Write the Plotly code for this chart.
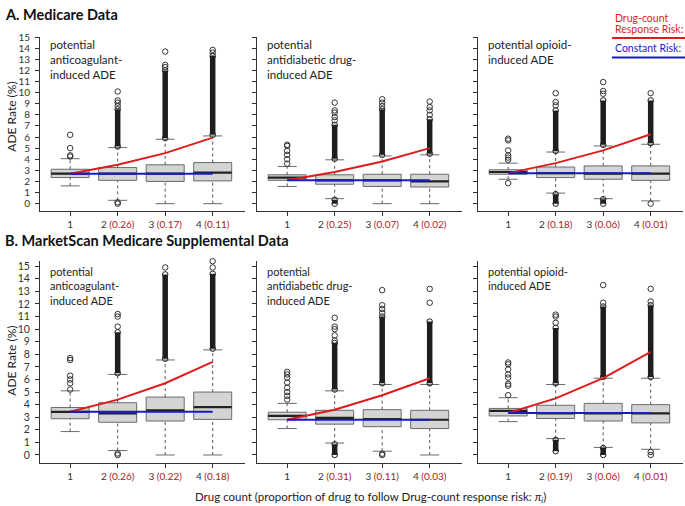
import plotly.graph_objects as go

# ---------------- data ----------------
PANELS = ["A1", "A2", "A3", "B1", "B2", "B3"]
PANEL_TEXT = [
    "potential<br>anticoagulant-<br>induced ADE",
    "potential<br>antidiabetic drug-<br>induced ADE",
    "potential opioid-<br>induced ADE",
    "potential<br>anticoagulant-<br>induced ADE",
    "potential<br>antidiabetic drug-<br>induced ADE",
    "potential opioid-<br>induced ADE",
]
DRUG_COUNT = [1, 2, 3, 4]
PROPORTION = [
    ["", "0.26", "0.17", "0.11"],
    ["", "0.25", "0.07", "0.02"],
    ["", "0.18", "0.06", "0.01"],
    ["", "0.26", "0.22", "0.18"],
    ["", "0.31", "0.11", "0.03"],
    ["", "0.19", "0.06", "0.01"],
]
Q1 = [
    [2.35, 2.1, 2.0, 2.05],
    [2.1, 1.75, 1.55, 1.5],
    [2.65, 2.35, 2.2, 2.1],
    [2.88, 2.6, 2.7, 2.83],
    [2.8, 2.45, 2.25, 2.1],
    [3.1, 2.9, 2.7, 2.55],
]
MEDIAN = [
    [2.7, 2.7, 2.7, 2.8],
    [2.35, 2.1, 2.1, 2.0],
    [2.85, 2.75, 2.7, 2.7],
    [3.43, 3.3, 3.55, 3.8],
    [3.1, 2.95, 2.85, 2.8],
    [3.5, 3.3, 3.3, 3.3],
]
Q3 = [
    [3.1, 3.25, 3.5, 3.7],
    [2.6, 2.6, 2.65, 2.65],
    [3.05, 3.3, 3.4, 3.4],
    [3.77, 4.15, 4.6, 5.0],
    [3.4, 3.55, 3.6, 3.55],
    [3.7, 3.95, 4.1, 4.0],
]
WHISK_LO = [
    [1.6, 0.3, 0.0, 0.0],
    [1.55, 0.45, 0.0, 0.0],
    [2.2, 0.95, 0.45, 0.25],
    [1.86, 0.35, 0.0, 0.0],
    [2.1, 0.95, 0.3, 0.0],
    [2.65, 1.3, 0.6, 0.45],
]
WHISK_HI = [
    [4.05, 5.05, 5.8, 6.1],
    [3.35, 3.95, 4.3, 4.4],
    [3.65, 4.65, 5.2, 5.35],
    [5.1, 6.4, 7.55, 8.35],
    [4.1, 5.1, 5.6, 5.6],
    [4.55, 5.6, 6.1, 6.1],
]
DRUG_COUNT_RISK = [
    [2.7, 3.5, 4.55, 5.95],
    [2.1, 2.85, 3.8, 5.0],
    [2.75, 3.65, 4.8, 6.25],
    [3.43, 4.4, 5.7, 7.4],
    [2.8, 3.6, 4.75, 6.1],
    [3.33, 4.5, 6.1, 8.2],
]
CONSTANT_RISK = [2.7, 2.1, 2.75, 3.43, 2.8, 3.33]

# sparse outliers: (drug count, value)
OUTLIERS = [
    [(1, 4.25), (1, 4.35), (1, 5.0), (1, 6.2), (2, 0.0), (2, 0.12), (2, 8.8), (2, 9.1), (2, 9.3), (2, 10.1),
     (3, 12.3), (3, 12.5), (3, 13.7), (4, 13.6), (4, 13.85)],
    [(1, 3.6), (1, 4.0), (1, 4.4), (1, 4.75), (1, 5.2), (1, 5.3), (2, 7.5), (2, 7.8), (2, 8.2), (2, 8.4), (2, 9.1),
     (3, 8.8), (3, 9.1), (3, 9.4), (4, 8.0), (4, 8.4), (4, 8.7), (4, 9.2)],
    [(1, 1.85), (1, 3.95), (1, 4.15), (1, 4.35), (1, 4.8), (1, 5.7), (1, 5.85), (2, 8.85), (2, 9.15), (2, 9.95),
     (3, 9.9), (3, 10.15), (3, 10.95), (4, 9.95), (4, 0.0)],
    [(1, 5.2), (1, 5.7), (1, 6.0), (1, 6.3), (1, 7.55), (1, 7.7), (2, 0.0), (2, 0.12), (2, 10.2), (2, 11.0), (2, 11.2),
     (3, 14.9), (4, 14.9), (4, 15.4)],
    [(1, 4.4), (1, 4.7), (1, 5.0), (1, 5.35), (1, 5.75), (1, 6.15), (1, 6.4), (1, 6.6), (2, 9.1), (2, 9.5), (2, 10.0),
     (2, 10.2), (2, 10.9), (3, 0.1), (3, 0.0), (3, 11.3), (3, 11.6), (3, 11.9), (3, 13.1), (4, 12.1), (4, 13.2)],
    [(1, 4.75), (1, 5.5), (1, 5.65), (1, 6.15), (1, 6.4), (1, 6.8), (1, 7.2), (1, 7.35), (2, 10.5), (2, 11.0),
     (2, 11.15), (3, 12.1), (3, 13.5), (4, 12.2), (4, 13.2), (4, 0.24), (4, 0.0)],
]
# dense runs of outliers: (drug count, from, to)
DENSE_OUTLIERS = [
    [(2, 5.15, 8.5), (3, 5.9, 12.0), (4, 6.2, 13.3)],
    [(2, 4.05, 7.1), (2, 0.0, 0.35), (3, 4.4, 8.5), (4, 4.5, 7.6)],
    [(2, 4.75, 8.4), (2, 0.0, 0.85), (3, 5.3, 9.3), (3, 0.0, 0.4), (4, 5.45, 9.3)],
    [(2, 6.5, 9.75), (3, 7.65, 14.35), (4, 8.45, 14.4)],
    [(2, 5.2, 8.9), (2, 0.0, 0.85), (3, 5.7, 11.0), (4, 5.7, 10.6)],
    [(2, 5.7, 10.1), (2, 0.3, 1.2), (3, 6.2, 11.8), (3, 0.0, 0.55), (4, 6.2, 11.9)],
]

# ---------------- layout geometry (pixels) ----------------
W, H = 685, 506
COL_PX = [(40, 245), (257, 462), (478, 683)]
ROW_PX = [(207, 31.5), (462, 258)]  # (bottom, top)
Y_RANGE = [[-0.62, 15.0], [-0.6, 15.42]]
X_RANGE = [0.365, 4.68]
BOX_W = 0.8
CAP_HALF = 0.2

FONT = "Lato, Open Sans, sans-serif"
RED = "#dd1c1c"
BLUE = "#1a1acc"
PROP_RED = "#b02020"
BOX_LINE = "#6a6a6a"


def px(x):
    return x / W


def py(y):
    return 1 - y / H


fig = go.Figure()
layout = dict(
    width=W, height=H, margin=dict(l=0, r=0, t=0, b=0),
    plot_bgcolor="white", paper_bgcolor="white", showlegend=False,
    boxmode="overlay", font=dict(family=FONT, color="#222"),
)
annotations = []
shapes = []

for i, name in enumerate(PANELS):
    row, col = divmod(i, 3)
    n = "" if i == 0 else str(i + 1)
    xa, ya = "x" + n, "y" + n
    x0p, x1p = COL_PX[col]
    yb, yt = ROW_PX[row]
    ticktext = []
    for d, p in zip(DRUG_COUNT, PROPORTION[i]):
        if p:
            ticktext.append(f"{d}\u00a0<span style='color:{PROP_RED}'>({p})</span>")
        else:
            ticktext.append(str(d))
    layout["xaxis" + n] = dict(
        domain=[px(x0p), px(x1p)], range=X_RANGE, anchor=ya,
        showline=True, linecolor="#333", linewidth=1, showgrid=False, zeroline=False,
        tickvals=DRUG_COUNT, ticktext=ticktext, ticks="outside", ticklen=4,
        tickcolor="#333", tickfont=dict(size=10, family=FONT, color="#333"),
    )
    layout["yaxis" + n] = dict(
        domain=[py(yb), py(yt)], range=Y_RANGE[row], anchor=xa,
        showline=True, linecolor="#333", linewidth=1, showgrid=False, zeroline=False,
        tickvals=list(range(0, 16)), ticks="outside", ticklen=4, tickcolor="#333",
        showticklabels=(col == 0), tickfont=dict(size=10 if row == 0 else 10.5, family=FONT, color="#333"),
        ticklabelstandoff=3,
    )

    # boxes
    fig.add_trace(go.Box(
        x=DRUG_COUNT, q1=Q1[i], median=MEDIAN[i], q3=Q3[i],
        lowerfence=Q1[i], upperfence=Q3[i], width=BOX_W, whiskerwidth=0,
        fillcolor="#d4d4d4", line=dict(color=BOX_LINE, width=1),
        boxpoints=False, xaxis=xa, yaxis=ya, hoverinfo="skip",
    ))
    # whiskers (dashed) and caps
    wx, wy, cx, cy = [], [], [], []
    for d, lo, q1, q3, hi in zip(DRUG_COUNT, WHISK_LO[i], Q1[i], Q3[i], WHISK_HI[i]):
        wx += [d, d, None, d, d, None]
        wy += [lo, q1, None, q3, hi, None]
        cx += [d - CAP_HALF, d + CAP_HALF, None, d - CAP_HALF, d + CAP_HALF, None]
        cy += [lo, lo, None, hi, hi, None]
    fig.add_trace(go.Scatter(x=wx, y=wy, mode="lines", line=dict(color="#555", width=1, dash="dot"),
                             xaxis=xa, yaxis=ya, hoverinfo="skip"))
    fig.add_trace(go.Scatter(x=cx, y=cy, mode="lines", line=dict(color=BOX_LINE, width=1),
                             xaxis=xa, yaxis=ya, hoverinfo="skip"))
    # medians
    mx, my = [], []
    for d, m in zip(DRUG_COUNT, MEDIAN[i]):
        mx += [d - BOX_W / 2, d + BOX_W / 2, None]
        my += [m, m, None]
    fig.add_trace(go.Scatter(x=mx, y=my, mode="lines", line=dict(color="#222", width=2.2),
                             xaxis=xa, yaxis=ya, hoverinfo="skip"))
    # dense outliers
    dx, dy = [], []
    ex, ey = [], []
    for d, lo, hi in DENSE_OUTLIERS[i]:
        dx += [d, d, None]
        dy += [lo, hi, None]
        ex += [d, d]
        ey += [lo, hi]
    fig.add_trace(go.Scatter(x=dx, y=dy, mode="lines", line=dict(color="#1e1e1e", width=5.5),
                             xaxis=xa, yaxis=ya, hoverinfo="skip"))
    fig.add_trace(go.Scatter(x=ex, y=ey, mode="markers",
                             marker=dict(symbol="circle-open", size=5.5, color="#1e1e1e", line=dict(width=1)),
                             xaxis=xa, yaxis=ya, hoverinfo="skip", cliponaxis=False))
    # sparse outliers
    fig.add_trace(go.Scatter(x=[o[0] for o in OUTLIERS[i]], y=[o[1] for o in OUTLIERS[i]], mode="markers",
                             marker=dict(symbol="circle-open", size=5.5, color="#333", line=dict(width=1)),
                             xaxis=xa, yaxis=ya, hoverinfo="skip", cliponaxis=False))
    # risk lines
    fig.add_trace(go.Scatter(x=DRUG_COUNT, y=DRUG_COUNT_RISK[i], mode="lines", line=dict(color=RED, width=2),
                             xaxis=xa, yaxis=ya, hoverinfo="skip"))
    fig.add_trace(go.Scatter(x=DRUG_COUNT, y=[CONSTANT_RISK[i]] * len(DRUG_COUNT), mode="lines",
                             line=dict(color=BLUE, width=2), xaxis=xa, yaxis=ya, hoverinfo="skip"))

    # panel label
    annotations.append(dict(
        text=PANEL_TEXT[i], x=px(x0p + 8), y=py(yt - 1 if row == 0 else yt + 2),
        xref="paper", yref="paper", xanchor="left", yanchor="top", showarrow=False, align="left",
        font=dict(size=11.5 if row == 0 else 11, family=FONT, color="#222"),
    ))

# y axis titles
for yc in (112, 359):
    annotations.append(dict(text="ADE Rate (%)", x=px(12), y=py(yc), xref="paper", yref="paper",
                            xanchor="center", yanchor="middle",
                            textangle=-90, showarrow=False, font=dict(size=12, family=FONT, color="#222")))
# section titles
annotations.append(dict(text="<b>A. Medicare Data</b>", x=px(3), y=py(9), xref="paper", yref="paper",
                        xanchor="left", yanchor="middle", showarrow=False,
                        font=dict(size=14.5, family=FONT, color="#111")))
annotations.append(dict(text="<b>B. MarketScan Medicare Supplemental Data</b>", x=px(3), y=py(237),
                        xref="paper", yref="paper", xanchor="left", yanchor="middle", showarrow=False,
                        font=dict(size=14.5, family=FONT, color="#111")))
# x axis title
annotations.append(dict(text="Drug count (proportion of drug to follow Drug-count response risk: <i>π<sub>i</sub></i>)",
                        x=px(370), y=py(497), xref="paper", yref="paper", xanchor="center", yanchor="middle",
                        showarrow=False, font=dict(size=11.5, family=FONT, color="#222")))
# legend
for txt, yc, colr in (("Drug-count", 12, RED), ("Response Risk:", 23.5, RED), ("Constant Risk:", 43, BLUE)):
    annotations.append(dict(text=txt, x=px(613), y=py(yc), xref="paper", yref="paper",
                            xanchor="left", yanchor="middle", showarrow=False, align="left",
                            font=dict(size=10.5, family=FONT, color=colr)))
shapes.append(dict(type="line", xref="paper", yref="paper", x0=px(612), x1=px(685), y0=py(32.5), y1=py(32.5),
                   line=dict(color=RED, width=2)))
shapes.append(dict(type="line", xref="paper", yref="paper", x0=px(612), x1=px(685), y0=py(52), y1=py(52),
                   line=dict(color=BLUE, width=2)))

layout["annotations"] = annotations
layout["shapes"] = shapes
fig.update_layout(**layout)
fig.write_html("out.html", config={"displayModeBar": False},
               post_script="document.body.style.margin='0';document.body.style.padding='0';")
